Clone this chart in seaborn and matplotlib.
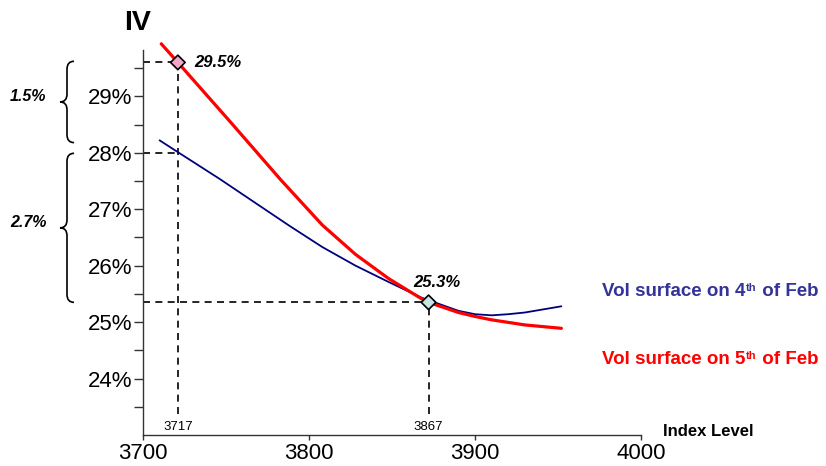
import numpy as np
import pandas as pd
import seaborn as sns
import matplotlib.pyplot as plt
import matplotlib.transforms as mtransforms
from matplotlib.path import Path
from matplotlib.patches import PathPatch

sns.set_theme(style="ticks")
plt.rcParams['font.family'] = ['Liberation Sans', 'DejaVu Sans']
plt.rcParams.update({'text.color': 'black', 'xtick.color': 'black', 'ytick.color': 'black',
                     'axes.labelcolor': 'black'})

# implied vol curves (index level, IV %)
feb4_x = [3710, 3720, 3746, 3788, 3808, 3828, 3848, 3868, 3890, 3900, 3910, 3920, 3930, 3940, 3952]
feb4_iv = [28.22, 28.03, 27.54, 26.71, 26.33, 26.00, 25.71, 25.43, 25.20, 25.14, 25.12, 25.14, 25.17, 25.22, 25.28]

feb5_x = [3711, 3721, 3754, 3783, 3808, 3828, 3848, 3868, 3876, 3890, 3900, 3910, 3930, 3952]
feb5_iv = [29.93, 29.60, 28.50, 27.52, 26.72, 26.20, 25.77, 25.41, 25.31, 25.17, 25.10, 25.04, 24.95, 24.89]

# highlighted points
mark_x = [3721, 3872]
mark_iv = [29.60, 25.35]
mark_text = ['29.5%', '25.3%']
mark_xlabel = ['3717', '3867']
mark_colors = ['#f4a6c8', '#c6e4e4']
old_iv_at_left = 28.0

x_ticks = [3700, 3800, 3900, 4000]
y_ticks = [24, 25, 26, 27, 28, 29]
y_minor = [23.5, 24.5, 25.5, 26.5, 27.5, 28.5, 29.5]

# braces: (top, bottom, label)
braces = [(29.62, 28.18, '1.5%'), (27.99, 25.35, '2.7%')]

fig = plt.figure(figsize=(8.26, 4.66), dpi=100)
ax = fig.add_axes([0.1731, 0.0665, 0.603, 0.8262])

blue = '#00007f'
red = '#ff0000'

df4 = pd.DataFrame({'x': feb4_x, 'iv': feb4_iv})
df5 = pd.DataFrame({'x': feb5_x, 'iv': feb5_iv})
sns.lineplot(data=df4, x='x', y='iv', color=blue, lw=1.3, ax=ax, clip_on=False, zorder=2)
sns.lineplot(data=df5, x='x', y='iv', color=red, lw=2.3, ax=ax, clip_on=False, zorder=3)

pts = pd.DataFrame({'x': mark_x, 'iv': mark_iv, 'name': mark_text})
sns.scatterplot(data=pts, x='x', y='iv', hue='name', palette=mark_colors, marker='D', s=55,
                edgecolor='black', linewidth=1.2, legend=False, ax=ax, zorder=5, clip_on=False)

# dashed guide lines
dash_bottom = 23.38
dash = dict(color='black', lw=1.2, linestyle=(0, (4.2, 3.2)), zorder=1)
ax.plot([3700, mark_x[0]], [mark_iv[0], mark_iv[0]], **dash)
ax.plot([3700, mark_x[0]], [old_iv_at_left, old_iv_at_left], **dash)
ax.plot([3700, mark_x[1]], [mark_iv[1], mark_iv[1]], **dash)
ax.plot([mark_x[0], mark_x[0]], [dash_bottom, mark_iv[0]], **dash)
ax.plot([mark_x[1], mark_x[1]], [dash_bottom, mark_iv[1]], **dash)

# point labels
ax.annotate(mark_text[0], (mark_x[0], mark_iv[0]), xytext=(12, 0), textcoords='offset points',
            ha='left', va='center', fontsize=12, fontweight='bold', fontstyle='italic')
ax.annotate(mark_text[1], (mark_x[1], mark_iv[1]), xytext=(6, 14), textcoords='offset points',
            ha='center', va='center', fontsize=12, fontweight='bold', fontstyle='italic')
for xv, lab in zip(mark_x, mark_xlabel):
    ax.text(xv, 23.15, lab, ha='center', va='center', fontsize=9.5)

# axes styling
ax.set_xlim(3700, 4000)
ax.set_ylim(23, 29.82)
ax.set_xticks(x_ticks)
ax.set_xticklabels([str(v) for v in x_ticks])
ax.set_yticks(y_ticks)
ax.set_yticklabels([f'{v}%' for v in y_ticks])
ax.set_yticks(y_minor, minor=True)
ax.set_xlabel('')
ax.set_ylabel('')
sns.despine(ax=ax)
for s in ['left', 'bottom']:
    ax.spines[s].set_linewidth(1.0)
    ax.spines[s].set_color('#333333')
ax.tick_params(axis='y', which='both', length=6.5, width=1, pad=1, labelsize=16, color='#333333')
ax.tick_params(axis='x', which='major', length=3.5, width=1, pad=2, labelsize=16, color='#333333')
ax.tick_params(axis='x', which='minor', length=0)

# curly braces on the left
trans = mtransforms.blended_transform_factory(fig.transFigure, ax.transData)
x_tip, x_mid, x_end = 60 / 826, 67 / 826, 74 / 826
r = 0.14
for top, bot, lab in braces:
    mid = (top + bot) / 2
    verts = [(x_end, top), (x_mid, top), (x_mid, top - r),
             (x_mid, mid + r),
             (x_mid, mid), (x_tip, mid),
             (x_mid, mid), (x_mid, mid - r),
             (x_mid, bot + r),
             (x_mid, bot), (x_end, bot)]
    codes = [Path.MOVETO, Path.CURVE3, Path.CURVE3,
             Path.LINETO,
             Path.CURVE3, Path.CURVE3,
             Path.CURVE3, Path.CURVE3,
             Path.LINETO,
             Path.CURVE3, Path.CURVE3]
    ax.add_patch(PathPatch(Path(verts, codes), facecolor='none', edgecolor='black',
                           lw=1.2, transform=trans, clip_on=False))
    ax.text(28 / 826, mid + 0.1, lab, transform=trans, ha='center', va='center',
            fontsize=11.5, fontweight='bold', fontstyle='italic')

# titles
fig.text(0.167, 0.9506, 'IV', ha='center', va='center', fontsize=20.5, fontweight='bold')
fig.text(0.8027, 0.073, 'Index Level', ha='left', va='center', fontsize=12, fontweight='bold')

# curve labels with superscripts
def curve_label(y, day, color):
    t1 = fig.text(0.7288, y, f'Vol surface on {day}', ha='left', va='center',
                  fontsize=13.5, fontweight='bold', color=color)
    t2 = ax.annotate('th', xy=(1, 0.5), xycoords=t1, xytext=(0.5, 3), textcoords='offset points',
                     ha='left', va='center', fontsize=8, fontweight='bold', color=color)
    ax.annotate(' of Feb', xy=(1, 0.5), xycoords=(t2, t1), ha='left', va='center',
                fontsize=13.5, fontweight='bold', color=color)

curve_label(0.3734, 4, '#333399')
curve_label(0.2275, 5, red)

fig.savefig('out.png', dpi=100)
